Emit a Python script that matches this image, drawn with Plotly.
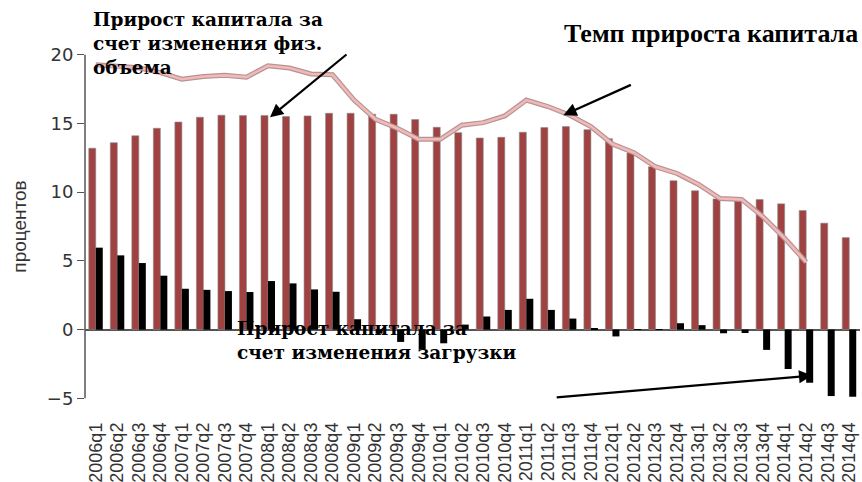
import plotly.graph_objects as go

quarters = [f"{y}q{q}" for y in range(2006, 2015) for q in range(1, 5)]

phys_volume = [13.2, 13.6, 14.1, 14.65, 15.1, 15.45, 15.6, 15.57, 15.57, 15.5, 15.55, 15.74,
               15.74, 15.67, 15.67, 15.28, 14.72, 14.33, 13.94, 13.99, 14.36, 14.7, 14.77, 14.55,
               13.89, 12.85, 11.85, 10.83, 10.1, 9.51, 9.51, 9.46, 9.15, 8.66, 7.74, 6.69]

utilization = [5.96, 5.4, 4.84, 3.92, 2.97, 2.89, 2.8, 2.73, 3.53, 3.36, 2.92, 2.75,
               0.75, -0.3, -0.9, -1.45, -1.0, 0.36, 0.95, 1.43, 2.24, 1.43, 0.8, 0.07,
               -0.5, 0.02, 0.02, 0.46, 0.32, -0.27, -0.25, -1.48, -2.87, -3.87, -4.84, -4.89]

capital_growth = [19.27, 19.12, 19.05, 18.7, 18.22, 18.42, 18.5, 18.37, 19.2, 19.03, 18.6, 18.54,
                  16.7, 15.3, 14.65, 13.85, 13.85, 14.87, 15.06, 15.55, 16.7, 16.23, 15.62, 14.77,
                  13.5, 12.87, 11.85, 11.36, 10.56, 9.54, 9.47, 8.2, 6.64, 4.91]

y_ticks = [-5, 0, 5, 10, 15, 20]

W, H = 862, 482
ML, MR, MT, MB = 85, 2, 41, 70
Y_MIN, Y_MAX = -6, 21


def px_x(px):
    return (px - ML) / (W - ML - MR)


def px_y(py):
    return (H - MB - py) / (H - MT - MB)


fig = go.Figure()

fig.add_trace(go.Bar(x=quarters, y=phys_volume, marker=dict(color="#a04242", line=dict(color="#8a8a8a", width=0.6)),
                     showlegend=False))
fig.add_trace(go.Bar(x=quarters, y=utilization, marker=dict(color="#000000", line=dict(width=0)),
                     showlegend=False))
fig.add_trace(go.Scatter(x=quarters[:len(capital_growth)], y=capital_growth, mode="lines",
                         line=dict(color="#b49494", width=5), showlegend=False))
fig.add_trace(go.Scatter(x=quarters[:len(capital_growth)], y=capital_growth, mode="lines",
                         line=dict(color="#f3b8b8", width=2.6), showlegend=False))

# y axis line from -5 to 20 (R style)
fig.add_shape(type="line", xref="paper", yref="y", x0=0, x1=0, y0=y_ticks[0], y1=y_ticks[-1],
              line=dict(color="#555555", width=1.5))

fig.add_annotation(xref="paper", yref="paper", x=px_x(91), y=px_y(7), xanchor="left", yanchor="top",
                   align="left", showarrow=False,
                   text="<b>Прирост капитала за<br>счет изменения физ.<br>объема</b>",
                   font=dict(family="DejaVu Serif", size=18.5, color="#000"))
fig.add_annotation(xref="paper", yref="paper", x=px_x(860), y=px_y(33), xanchor="right", yanchor="middle",
                   showarrow=False, text="<b>Темп прироста капитала</b>",
                   font=dict(family="Liberation Serif", size=26, color="#000"))
fig.add_annotation(xref="paper", yref="paper", x=px_x(235), y=px_y(316), xanchor="left", yanchor="top",
                   align="left", showarrow=False,
                   text="<b>Прирост капитала за<br>счет изменения загрузки</b>",
                   font=dict(family="DejaVu Serif", size=18.5, color="#000"))

# arrows
arrow_style = dict(showarrow=True, arrowhead=2, arrowsize=1.2, arrowwidth=2.2, arrowcolor="#000", text="")
fig.add_annotation(x=quarters[8], y=15.45, xshift=2, ax=78, ay=-64, **arrow_style)
fig.add_annotation(x=quarters[22], y=15.6, xshift=-6, ax=69, ay=-31, **arrow_style)
fig.add_annotation(x=quarters[33], y=-3.35, xshift=6, ax=-257, ay=22, **arrow_style)

fig.update_layout(
    width=W, height=H,
    margin=dict(l=ML, r=MR, t=MT, b=MB, autoexpand=False),
    plot_bgcolor="white", paper_bgcolor="white",
    barmode="group", bargap=0.35, bargroupgap=0,
    font=dict(family="Liberation Sans", color="#333333"),
)
fig.update_xaxes(type="category", range=[-0.5, len(quarters) - 0.5], showgrid=False, showline=False,
                 zeroline=False, ticks="", tickangle=-90, tickfont=dict(size=18, color="#333333"),
                 tickmode="array", tickvals=quarters, ticktext=quarters,
                 ticklabelstandoff=6, automargin=False)
fig.update_yaxes(range=[Y_MIN, Y_MAX], tickvals=y_ticks, showgrid=False, showline=False,
                 zeroline=True, zerolinecolor="#555555", zerolinewidth=1.5,
                 ticks="outside", ticklen=7, tickcolor="#555555", tickwidth=1.3,
                 tickfont=dict(family="DejaVu Sans", size=18, color="#333333"),
                 title=dict(text="процентов", font=dict(size=19, color="#333333"), standoff=15),
                 automargin=False)

fig.write_html("out.html", config={"displayModeBar": False},
               post_script="document.body.style.margin='0';")
